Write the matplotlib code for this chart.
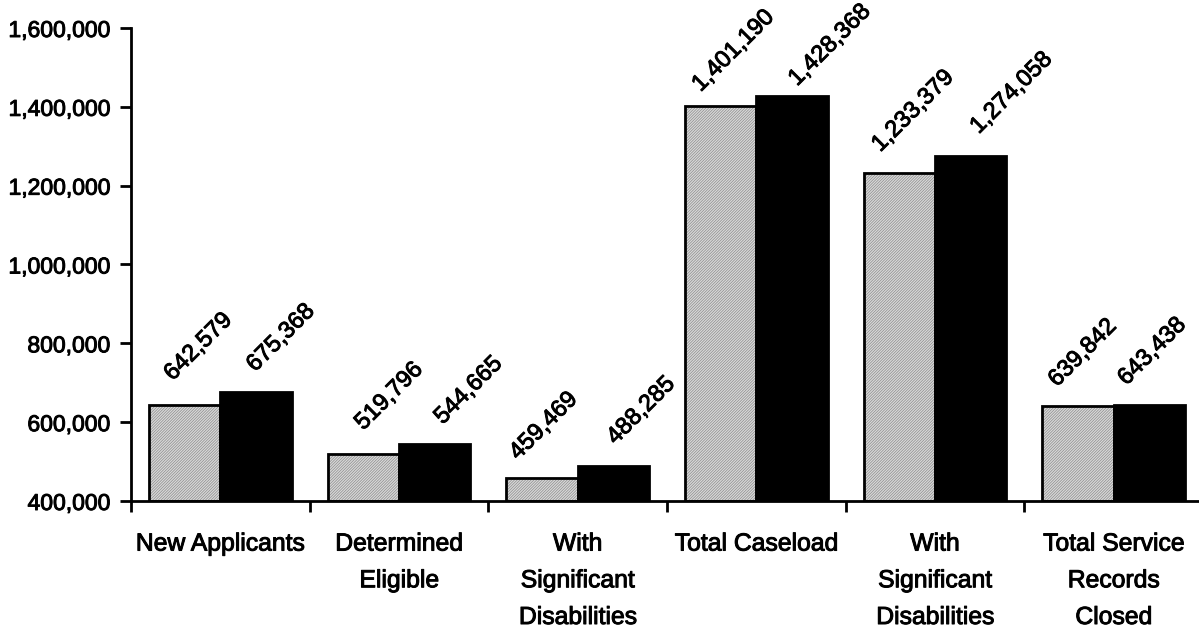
import matplotlib
matplotlib.use("Agg")
import matplotlib.pyplot as plt
import matplotlib.patheffects as pe
import numpy as np

plt.rcParams["font.family"] = ["Liberation Sans", "DejaVu Sans"]
plt.rcParams["hatch.linewidth"] = 0.5

categories = ["New Applicants", "Determined\nEligible", "With\nSignificant\nDisabilities",
              "Total Caseload", "With\nSignificant\nDisabilities",
              "Total Service\nRecords\nClosed"]
year_a = [642579, 519796, 459469, 1401190, 1233379, 639842]
year_b = [675368, 544665, 488285, 1428368, 1274058, 643438]
yticks = [400000, 600000, 800000, 1000000, 1200000, 1400000, 1600000]

# label nudges (pixels from bar centre / bar top) so the slanted numbers stay clear
nudge_a = [(-12, 24), (0, 23), (-24, 17), (-20, 14), (-19, 20), (-21, 19)]
nudge_b = [(-1, 20), (8, 19), (2, 21), (5, 9), (8, 22), (-23, 19)]

thick = [pe.withStroke(linewidth=0.7, foreground="black")]

fig = plt.figure(figsize=(11.99, 6.29), dpi=100)
ax = fig.add_axes([131 / 1199, 128 / 629, 1072 / 1199, 473 / 629])

x = np.arange(len(categories)) + 0.5
w = 0.4
base = 400000
ha_vals = np.array(year_a) - base
hb_vals = np.array(year_b) - base

# light grey bars with fine diagonal texture, outlined in black
ax.bar(x - w / 2, ha_vals, w, bottom=base, facecolor="#d9d9d9",
       edgecolor="#8c8c8c", linewidth=0, hatch="////////////")
ax.bar(x - w / 2, ha_vals, w, bottom=base, fill=False, edgecolor="black", linewidth=2)
ax.bar(x + w / 2, hb_vals, w, bottom=base, facecolor="black",
       edgecolor="black", linewidth=2)

for xs, vals, nudges in [(x - w / 2, year_a, nudge_a), (x + w / 2, year_b, nudge_b)]:
    for xi, v, (dx, dy) in zip(xs, vals, nudges):
        t = ax.annotate(f"{v:,}", xy=(xi, v), xytext=(dx, dy), textcoords="offset pixels",
                        rotation=45, rotation_mode="anchor", ha="left", va="baseline",
                        fontsize=17, annotation_clip=False)
        t.set_path_effects(thick)

ax.set_xlim(0, 6)
ax.set_ylim(400000, 1600000)
ax.set_yticks(yticks)
ax.set_yticklabels([f"{t:,}" for t in yticks])
ax.set_xticks(np.arange(0, 7))
ax.set_xticklabels([])
ax.set_xticks(x, minor=True)
ax.set_xticklabels(categories, minor=True, fontsize=17.8, linespacing=1.67)
ax.tick_params(axis="x", which="minor", length=0, pad=22)
ax.tick_params(axis="x", which="major", length=8, width=2)
ax.tick_params(axis="y", length=8, width=2, labelsize=16.5, pad=7)
for lbl in ax.get_yticklabels() + ax.get_xticklabels(minor=True):
    lbl.set_path_effects(thick)
for s in ["top", "right"]:
    ax.spines[s].set_visible(False)
for s in ["left", "bottom"]:
    ax.spines[s].set_linewidth(2)

fig.savefig("out.png", dpi=100)
